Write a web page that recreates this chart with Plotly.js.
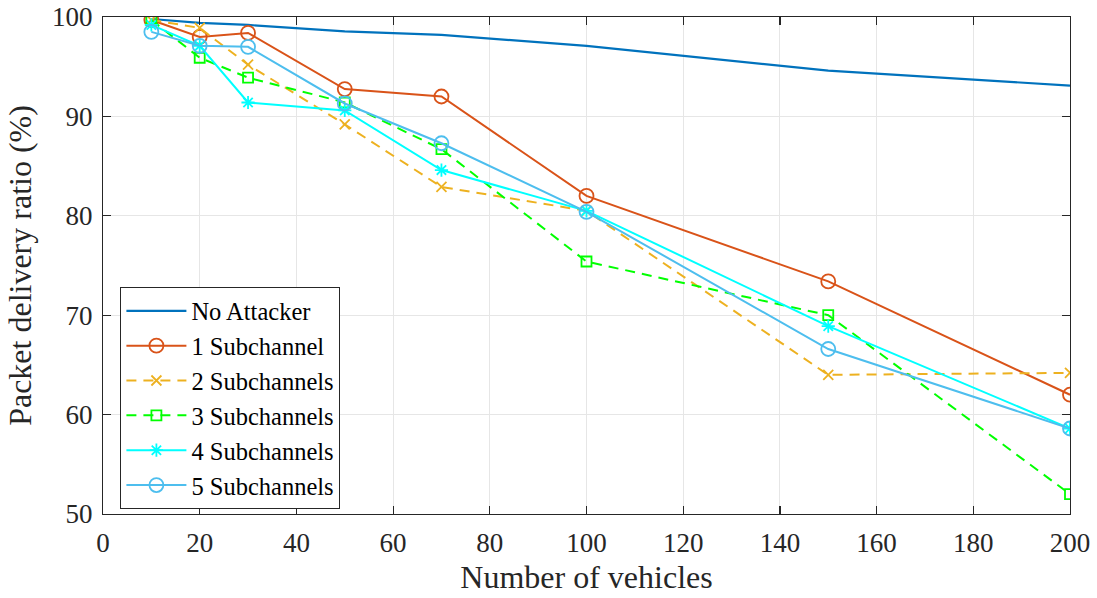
<!DOCTYPE html>
<html>
<head>
<meta charset="utf-8">
<script src="https://cdn.plot.ly/plotly-3.0.1.min.js"></script>
<style>html,body{margin:0;padding:0;background:#fff;}#chart{width:1097px;height:598px;}</style>
</head>
<body>
<div id="chart"></div>
<script>
const vehicles = [10, 20, 30, 50, 70, 100, 150, 200];
const seriesNames = ["No Attacker", "1 Subchannel", "2 Subchannels", "3 Subchannels", "4 Subchannels", "5 Subchannels"];
const noAttacker = [99.8, 99.4, 99.2, 98.55, 98.2, 97.1, 94.6, 93.1];
const sub1 = [99.7, 98.0, 98.4, 92.75, 92.0, 82.0, 73.4, 62.0];
const sub2 = [99.7, 98.9, 95.2, 89.2, 82.9, 80.5, 64.0, 64.2];
const sub3 = [99.7, 95.9, 93.9, 91.4, 86.7, 75.4, 70.0, 52.0];
const sub4 = [99.2, 97.1, 91.4, 90.6, 84.6, 80.5, 68.9, 58.6];
const sub5 = [98.5, 97.1, 97.0, 91.3, 87.3, 80.4, 66.6, 58.6];

(function () {
  const FAM = "Liberation Serif";
  const seriesValues = [noAttacker, sub1, sub2, sub3, sub4, sub5];
  const colors = ["#0072BD", "#D95319", "#EDB120", "#00FF00", "#00FFFF", "#4DBEEE"];
  const symbols = ["circle", "circle-open", "x-thin-open", "square-open", "asterisk-open", "circle-open"];
  const sizes = [0, 14, 10, 10, 11, 14];
  const dashes = ["solid", "solid", "10px,7px", "10px,7px", "solid", "solid"];

  const traces = seriesValues.map((vals, i) => {
    const t = {
      x: vehicles, y: vals, name: seriesNames[i], type: "scatter",
      mode: i === 0 ? "lines" : "lines+markers",
      line: {color: colors[i], width: i === 0 ? 2.2 : 2, dash: dashes[i]}
    };
    if (i > 0) {
      t.marker = {symbol: symbols[i], size: sizes[i], color: colors[i], line: {color: colors[i], width: 1.8}};
    }
    return t;
  });

  function axisCommon() {
    return {
      showline: true, linecolor: "#262626", linewidth: 1.2, mirror: "ticks",
      ticks: "inside", ticklen: 8, tickcolor: "#262626", tickwidth: 1.2,
      showgrid: true, gridcolor: "#e6e6e6", gridwidth: 1, zeroline: false,
      tickfont: {family: FAM, size: 27, color: "#262626"}, ticklabelstandoff: 4
    };
  }

  const layout = {
    width: 1097, height: 598,
    font: {family: FAM, size: 26, color: "#262626"},
    margin: {l: 103, r: 27, t: 17, b: 84},
    paper_bgcolor: "#fff", plot_bgcolor: "#fff",
    showlegend: true,
    xaxis: Object.assign(axisCommon(), {
      range: [0, 200], tickmode: "linear", tick0: 0, dtick: 20,
      title: {text: "Number of vehicles", font: {family: FAM, size: 32, color: "#262626"}, standoff: 9}
    }),
    yaxis: Object.assign(axisCommon(), {
      range: [50, 100], tickmode: "linear", tick0: 50, dtick: 10,
      title: {text: "Packet delivery ratio (%)", font: {family: FAM, size: 32, color: "#262626"}, standoff: 10}
    }),
    legend: {
      x: 0.018, y: 0.456, xanchor: "left", yanchor: "top",
      bgcolor: "#fff", bordercolor: "#262626", borderwidth: 1,
      font: {family: FAM, size: 24.5, color: "#000"},
      tracegroupgap: 0, itemwidth: 60
    }
  };

  Plotly.newPlot("chart", traces, layout, {displayModeBar: false, staticPlot: true});
})();
</script>
</body>
</html>
